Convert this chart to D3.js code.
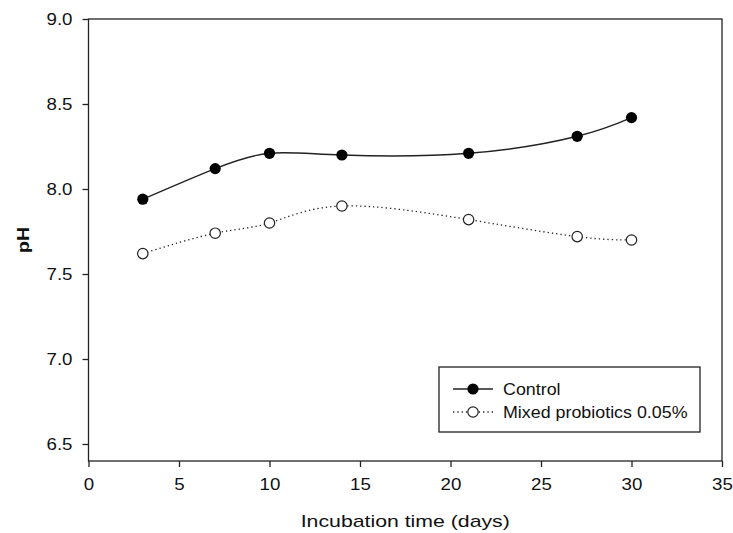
<!DOCTYPE html>
<html>
<head>
<meta charset="utf-8">
<script src="https://cdn.jsdelivr.net/npm/d3@7"></script>
<style>
  body { margin: 0; background: #fff; }
  text { font-family: Arial, "Liberation Sans", sans-serif; fill: #111; }
</style>
</head>
<body>
<div id="chart"></div>
<script>
// data
const days = [3, 7, 10, 14, 21, 27, 30];
const controlPH = [7.94, 8.12, 8.21, 8.20, 8.21, 8.31, 8.42];
const mixedPH = [7.62, 7.74, 7.80, 7.90, 7.82, 7.72, 7.70];
const xTicks = [0, 5, 10, 15, 20, 25, 30, 35];
const yTicks = [6.5, 7.0, 7.5, 8.0, 8.5, 9.0];
const seriesNames = ["Control", "Mixed probiotics 0.05%"];

// set the dimensions and margins of the graph
const margin = {top: 19, right: 11, bottom: 72, left: 88.5},
    width = 733 - margin.left - margin.right,
    height = 533 - margin.top - margin.bottom;

let svg = d3.select("#chart")
    .append("svg")
    .attr("width", 733)
    .attr("height", 533);

let g = svg.append("g")
    .attr("transform", "translate(" + margin.left + "," + margin.top + ")");

let x = d3.scaleLinear().domain([0, 35]).range([0, width]);
let y = d3.scaleLinear().domain([6.4, 9.0]).range([height, 0]);

// the reference text is a bit wider than Arial, stretch it
function stretch(sel, k) {
    sel.each(function() {
        let len = this.getComputedTextLength();
        d3.select(this).attr("textLength", len * k).attr("lengthAdjust", "spacingAndGlyphs");
    });
}

// frame
g.append("rect")
    .attr("width", width)
    .attr("height", height)
    .attr("fill", "none")
    .attr("stroke", "#222")
    .attr("stroke-width", 1.3);

// axes
let xAxis = g.append("g")
    .attr("transform", "translate(0," + height + ")")
    .call(d3.axisBottom(x).tickValues(xTicks).tickSize(6).tickPadding(11).tickFormat(d3.format("d")));
let yAxis = g.append("g")
    .call(d3.axisLeft(y).tickValues(yTicks).tickSize(6).tickPadding(10).tickFormat(d3.format(".1f")));

[xAxis, yAxis].forEach(function(a) {
    a.select(".domain").remove();
    a.selectAll("line").attr("stroke", "#222").attr("stroke-width", 1.3);
    a.selectAll("text").style("font-size", "17px").attr("fill", "#111");
    stretch(a.selectAll("text"), 1.1);
});

// axis titles
let xTitle = svg.append("text")
    .attr("x", margin.left + width / 2 + 0)
    .attr("y", 527)
    .attr("text-anchor", "middle")
    .style("font-size", "17px")
    .text("Incubation time (days)");
stretch(xTitle, 1.25);

let yTitle = svg.append("text")
    .attr("transform", "translate(29," + 240 + ") rotate(-90)")
    .attr("text-anchor", "middle")
    .style("font-size", "17px")
    .style("font-weight", "bold")
    .text("pH");
stretch(yTitle, 1.15);

// lines
const controlData = days.map(function(d, i) { return {x: d, y: controlPH[i]}; });
const mixedData = days.map(function(d, i) { return {x: d, y: mixedPH[i]}; });

const line = d3.line()
    .x(function(d) { return x(d.x); })
    .y(function(d) { return y(d.y); })
    .curve(d3.curveNatural);

g.append("path")
    .datum(controlData)
    .attr("fill", "none")
    .attr("stroke", "#222")
    .attr("stroke-width", 1.4)
    .attr("d", line);

g.append("path")
    .datum(mixedData)
    .attr("fill", "none")
    .attr("stroke", "#222")
    .attr("stroke-width", 1.3)
    .attr("stroke-dasharray", "1.3,3")
    .attr("d", line);

// markers
g.selectAll(".ctrl")
    .data(controlData)
    .enter().append("circle")
    .attr("cx", function(d) { return x(d.x); })
    .attr("cy", function(d) { return y(d.y); })
    .attr("r", 5.6)
    .attr("fill", "#000");

g.selectAll(".mix")
    .data(mixedData)
    .enter().append("circle")
    .attr("cx", function(d) { return x(d.x); })
    .attr("cy", function(d) { return y(d.y); })
    .attr("r", 5.2)
    .attr("fill", "#fff")
    .attr("stroke", "#222")
    .attr("stroke-width", 1.2);

// legend
let legend = svg.append("g").attr("transform", "translate(439,367)");
legend.append("rect")
    .attr("width", 261)
    .attr("height", 65)
    .attr("fill", "#fff")
    .attr("stroke", "#222")
    .attr("stroke-width", 1.3);

seriesNames.forEach(function(name, i) {
    let ly = 22 + i * 23;
    legend.append("line")
        .attr("x1", 14).attr("x2", 54)
        .attr("y1", ly).attr("y2", ly)
        .attr("stroke", "#222")
        .attr("stroke-width", 1.3)
        .attr("stroke-dasharray", i === 0 ? null : "1.3,3");
    legend.append("circle")
        .attr("cx", 34).attr("cy", ly)
        .attr("r", i === 0 ? 5.6 : 5.2)
        .attr("fill", i === 0 ? "#000" : "#fff")
        .attr("stroke", i === 0 ? "none" : "#222")
        .attr("stroke-width", 1.2);
    let t = legend.append("text")
        .attr("x", 64)
        .attr("y", ly + 5.5)
        .style("font-size", "17px")
        .text(name);
    stretch(t, 1.05);
});
</script>
</body>
</html>
